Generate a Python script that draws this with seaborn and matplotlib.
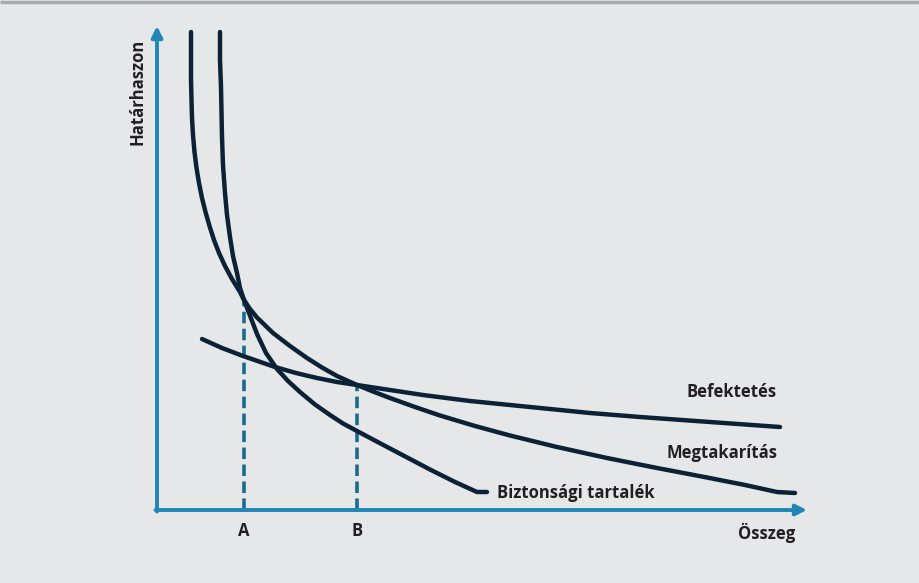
import pandas as pd
import seaborn as sns
import matplotlib.pyplot as plt

# curve points (x = Összeg, y = Határhaszon, origin at the axes corner)
megtakaritas_x = [34, 34, 34, 34.5, 35, 36, 37.5, 39.5, 42, 45, 48.5, 52.5, 57, 62, 68, 75, 83, 87, 93,
                  100, 116, 133, 150, 165, 180, 200, 216, 233, 258, 283, 318, 353, 400, 450, 500,
                  550, 588, 620, 638]
megtakaritas_y = [478, 455, 430, 410, 392, 375, 358, 342, 327, 312, 298, 284, 270, 257, 244, 231, 218, 210, 201,
                  192.5, 177, 164, 152, 142.5, 134, 125, 118.5, 112, 103, 94.5, 84, 74.5, 63, 52, 42,
                  32.5, 25, 18, 17]

biztonsagi_x = [63, 63, 64, 64.5, 65, 66, 68, 70, 73, 76, 80, 83, 87, 92, 100, 109, 120, 131, 143,
                158, 173, 186, 200, 215, 233, 253, 273, 298, 320, 330]
biztonsagi_y = [478, 450, 423, 398, 373, 345, 317, 295, 273, 254, 237, 222, 210, 197, 176, 157, 141, 129, 118,
                105.5, 95, 86.5, 79, 71, 61.5, 51, 40.5, 28, 18, 18]

befektetes_x = [45, 65, 86, 118, 139, 160, 180, 200, 233, 266, 313, 353, 383, 433, 483, 553, 623]
befektetes_y = [171, 162, 154, 143, 137, 132, 128, 125, 120, 115, 109, 105, 102, 97, 93, 88, 83]

# points A and B on the Összeg axis
cut_x = [87, 200]
cut_y = [210, 125]
cut_labels = ["A", "B"]

curve_labels = ["Befektetés", "Megtakarítás", "Biztonsági tartalék"]

sns.set_style("white")
plt.rcParams['font.family'] = ['Open Sans', 'DejaVu Sans']

bg = "#e6e7e9"
navy = "#0b2236"
axis_blue = "#1f86b5"
dash_blue = "#1b6a8c"
text_col = "#231f20"

fig = plt.figure(figsize=(9.19, 5.83), dpi=100, facecolor=bg)
ax = fig.add_axes([0, 0, 1, 1])
ax.set_facecolor(bg)
ax.set_xlim(-157, 762)
ax.set_ylim(-73, 510)
ax.axis("off")

# top border
ax.plot([-157, 762], [508.5, 508.5], color="#a9aaab", lw=2.5, solid_capstyle="butt", clip_on=False)

# dashed guides
for x, y in zip(cut_x, cut_y):
    ax.plot([x, x], [0, y], color=dash_blue, lw=2.6, dashes=(3.2, 1.5), zorder=2)

curves = [
    (megtakaritas_x, megtakaritas_y),
    (biztonsagi_x, biztonsagi_y),
    (befektetes_x, befektetes_y),
]
for xs, ys in curves:
    df = pd.DataFrame({"x": xs, "y": ys})
    sns.lineplot(data=df, x="x", y="y", sort=False, estimator=None, ax=ax,
                 color=navy, lw=3.2, solid_capstyle="round", solid_joinstyle="round", zorder=3)
ax.set_xlabel("")
ax.set_ylabel("")

# axes with arrows
arrow = dict(arrowstyle="-|>", color=axis_blue, lw=2.8, mutation_scale=16, shrinkA=0, shrinkB=0)
ax.annotate("", xy=(650, 0), xytext=(-1.5, 0), arrowprops=arrow, zorder=4)
ax.annotate("", xy=(0, 484), xytext=(0, -1.5), arrowprops=arrow, zorder=4)

font = dict(fontsize=12, fontweight="bold", color=text_col)
for x, lab in zip(cut_x, cut_labels):
    ax.text(x, -21, lab, ha="center", va="center", **font)
ax.text(610, -23, "Összeg", ha="center", va="center", **font)
ax.text(-20, 418, "Határhaszon", ha="center", va="center", rotation=90, **font)

ax.text(620, 118, curve_labels[0], ha="right", va="center", **font)
ax.text(620, 57, curve_labels[1], ha="right", va="center", **font)
ax.text(340, 17, curve_labels[2], ha="left", va="center", **font)

fig.savefig("out.png", dpi=100, facecolor=bg)
